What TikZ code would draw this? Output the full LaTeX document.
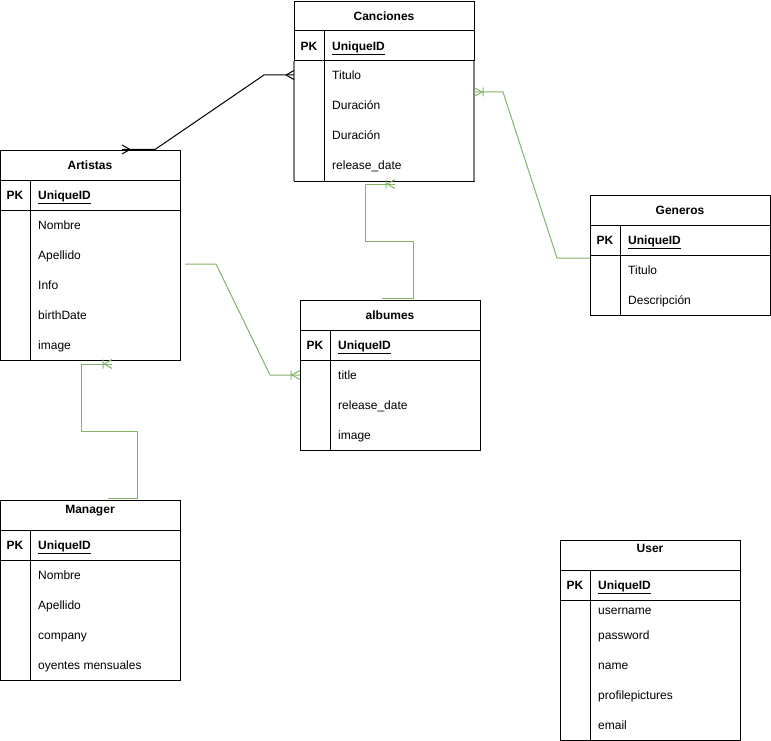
\documentclass[tikz,border=0pt]{standalone}
\usepackage{fontspec}
\setmainfont{Liberation Sans}
\definecolor{relgreen}{HTML}{82B366}
\definecolor{selgray}{HTML}{808080}
\tikzset{
 tbl/.style={draw=black, line width=1pt, inner sep=0, anchor=north west},
 sep/.style={draw=black, line width=1pt},
 txt/.style={inner sep=0, text height=9pt, text depth=0.4pt},
 ttl/.style={txt, font=\bfseries\fontsize{12}{14}\selectfont, anchor=center},
 pk/.style={txt, font=\bfseries\fontsize{12}{14}\selectfont, anchor=center},
 pkid/.style={txt, font=\bfseries\fontsize{12}{14}\selectfont, anchor=west},
 fld/.style={txt, font=\fontsize{12}{14}\selectfont, anchor=west},
 relg/.style={draw=relgreen, line width=1pt},
 relk/.style={draw=black, line width=1pt},
 crowmany/.pic={\draw[pic actions] (-8pt,0pt) -- (0pt,4.5pt) (-8pt,0pt) -- (0pt,-4.5pt);},
 crowone/.pic={\draw[pic actions] (-8pt,0pt) -- (0pt,4.5pt) (-8pt,0pt) -- (0pt,-4.5pt) (-9pt,-4.5pt) -- (-9pt,4.5pt);},
}
% #1 name, #2 x, #3 y, #4 height, #5 title, #6 title y
\newcommand\ertab[6]{%
 \node[tbl, minimum width=180pt, minimum height=#4pt] (#1) at (#2,#3) {};
 \draw[sep] (#2,{#3+30}) -- ({#2+180},{#3+30});
 \draw[sep] (#2,{#3+60}) -- ({#2+180},{#3+60});
 \draw[sep] ({#2+30},{#3+30}) -- ({#2+30},{#3+#4});
 \node[ttl] (#1t) at ({#2+90},#6) {#5};
 \node[pk] (#1pk) at ({#2+15},{#3+45}) {PK};
 \node[pkid] (#1id) at ({#2+38},{#3+45}) {\underline{UniqueID}};
}
\begin{document}
\begin{tikzpicture}[x=1pt,y=-1pt]
\useasboundingbox (0,0) rectangle (771,741);

% Canciones
\ertab{can}{294}{1}{180}{Canciones}{16}
\draw[draw=selgray, line width=1.6pt] (294,61) -- (294,181) (474,61) -- (474,181);
\node[fld] (can1) at (332,75) {Titulo};
\node[fld] (can2) at (332,105) {Duración};
\node[fld] (can3) at (332,135) {Duración};
\node[fld] (can4) at (332,165) {release\_date};

% Artistas
\ertab{art}{0}{150}{210}{Artistas}{165}
\node[fld] (art1) at (38,225) {Nombre};
\node[fld] (art2) at (38,255) {Apellido};
\node[fld] (art3) at (38,285) {Info};
\node[fld] (art4) at (38,315) {birthDate};
\node[fld] (art5) at (38,345) {image};

% Generos
\ertab{gen}{590}{195}{120}{Generos}{210}
\node[fld] (gen1) at (628,270) {Titulo};
\node[fld] (gen2) at (628,300) {Descripción};

% albumes
\ertab{alb}{300}{300}{150}{albumes}{315}
\node[fld] (alb1) at (338,375) {title};
\node[fld] (alb2) at (338,405) {release\_date};
\node[fld] (alb3) at (338,435) {image};

% Manager
\ertab{man}{0}{500}{180}{Manager}{509}
\node[fld] (man1) at (38,575) {Nombre};
\node[fld] (man2) at (38,605) {Apellido};
\node[fld] (man3) at (38,635) {company};
\node[fld] (man4) at (38,665) {oyentes mensuales};

% User
\ertab{usr}{560}{540}{200}{User}{548}
\node[fld] (usr1) at (598,610) {username};
\node[fld] (usr2) at (598,635) {password};
\node[fld] (usr3) at (598,665) {name};
\node[fld] (usr4) at (598,695) {profilepictures};
\node[fld] (usr5) at (598,725) {email};

% connector coordinates
\coordinate (k1) at (294,75);
\coordinate (k2) at (264,75);
\coordinate (k3) at (155,149.5);
\coordinate (k4) at (122,149.5);

\coordinate (g1) at (474,92);
\coordinate (g2) at (503,92);
\coordinate (g3) at (557,258);
\coordinate (g4) at (590,258);

\coordinate (a1) at (185,264);
\coordinate (a2) at (216,264);
\coordinate (a3) at (270,375);
\coordinate (a4) at (300,375);

\coordinate (m1) at (108,498);
\coordinate (m2) at (137,498);
\coordinate (m3) at (137,431);
\coordinate (m4) at (81,431);
\coordinate (m5) at (81,364);
\coordinate (m6) at (112,364);

\coordinate (b1) at (382,298);
\coordinate (b2) at (413,298);
\coordinate (b3) at (413,241);
\coordinate (b4) at (365,241);
\coordinate (b5) at (365,184);
\coordinate (b6) at (395,184);

% Canciones - Artistas
\draw[relk] (k1) -- (k2) -- (k3) -- (k4);
\pic[draw=black, line width=1pt] at (k1) {crowmany};
\pic[draw=black, line width=1pt, rotate=180] at (k4) {crowmany};

% Canciones - Generos
\draw[relg] (g1) -- (g2) -- (g3) -- (g4);
\pic[draw=relgreen, line width=1pt, rotate=180] at (g1) {crowone};

% Artistas - albumes
\draw[relg] (a1) -- (a2) -- (a3) -- (a4);
\pic[draw=relgreen, line width=1pt] at (a4) {crowone};

% Manager - Artistas
\draw[relg] (m1) -- (m2) -- (m3) -- (m4) -- (m5) -- (m6);
\pic[draw=relgreen, line width=1pt] at (m6) {crowone};

% albumes - Canciones
\draw[relg] (b1) -- (b2) -- (b3) -- (b4) -- (b5) -- (b6);
\pic[draw=relgreen, line width=1pt] at (b6) {crowone};
\end{tikzpicture}
\end{document}
